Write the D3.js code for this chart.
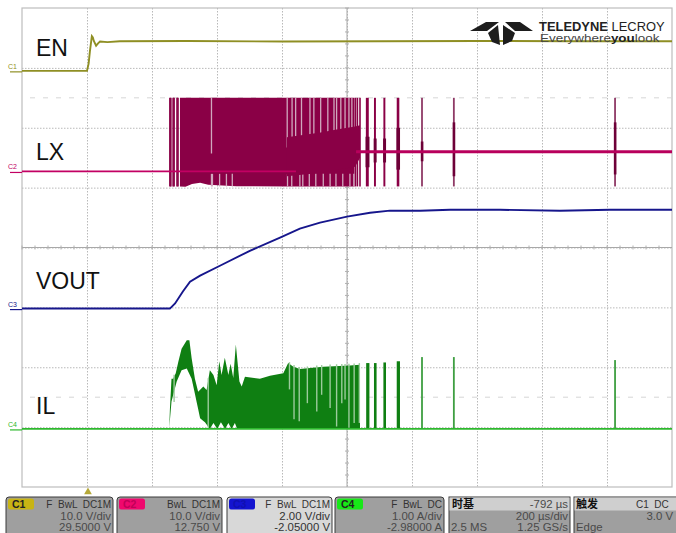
<!DOCTYPE html>
<html><head><meta charset="utf-8">
<script src="https://cdnjs.cloudflare.com/ajax/libs/d3/7.8.5/d3.min.js"></script>
<style>html,body{margin:0;background:#fff}svg{display:block}text{font-family:"Liberation Sans",Arial,sans-serif}</style>
</head><body><svg id="c" width="676" height="533"></svg>
<script>
// time in microseconds from the trigger, 200 us/div
const timeDomain = [-203, 1797];
const enT = [-203,-3,2,6,12,15,18,25,31,37,60,98,300,600,900,1200,1500,1797];
const enV = [0,0,1.2,3.3,5.8,5.6,5,4.2,4.6,4.9,4.8,4.95,5,4.9,4.95,5,4.95,4.95];
const voutT = [-203,252,268,292,314,345,406,498,591,652,714,797,868,929,1022,1114,1268,1452,1606,1797];
const voutV = [0,0,.17,.57,.9,1.1,1.43,1.93,2.37,2.67,2.87,3.07,3.2,3.27,3.27,3.3,3.3,3.27,3.3,3.3];
const lxBaseT = [-203,640,700,760,825,1797];
const lxBaseV = [0,0,.2,1.5,3.3,3.3];
const lxTop = 12.3, lxBottom = -2.5;
// main switching block
const lxLowT = [249,283,300,320,345,370,400,457,612,820];
const lxLowV = [-2.4,-2.5,-2.55,-2.1,-1.9,-2.2,-2.3,-2.45,-2.5,-2.5];
const lxCoreT = [612,650,716,765,822,837];
const lxCoreHi = [5.7,6,6.5,7,7.5,7.7];
const lxCoreLo = [-.8,-.6,-.2,.3,.8,2.3];
const lxSingle = [252,255,262,265,274,277,823,829,837];
const lxHoleHiT = [380,613,628,639,657,683,695,716,738,757,765,778,791,803,812];
const lxHoleLoT = [380,383,405,426,444,614,627,652,661,681,701,724,745,763,784,806,818];
const lxBurstStart = [855,880,909,950,1025,1123,1619];
const lxBurstEnd = [864,886,915,958,1026,1124,1620];
const lxBurstHi = [5.8,5.5,5.5,7.3,5,8.2,8.2];
const lxBurstLo = [.7,1.5,1.5,.3,1.7,-.8,-.5];
const ilBaseT = [-203,1797];
const ilBaseV = [0,0];
const ilHiT = [250,252,257,262,270,278,288,304,312,319,329,339,355,365,375,386,396,404,411,421,432,439,447,455,466,473,483,529,560,601,616,632,652,724,806,837];
const ilHiV = [.01,.32,.84,.84,.93,1.12,1.34,1.48,1.48,1.18,.84,.62,.71,.65,.98,.9,.73,1.13,.9,1.19,.9,1.09,.85,1.41,.79,.71,.87,.84,.89,.93,1.1,1.04,1,1.04,1.06,1.07];
const ilLoT = [250,257,273,288,304,319,334,345,360,375,386,398,409,422,432,442,452,459,837];
const ilLoV = [.01,.46,.79,.98,1.01,.84,.46,.18,.11,0,.1,0,.11,0,.1,0,.1,0,0];
const ilHoleT = [265,370,620,634,650,675,704,719,745,765,781,791,803,819,835];
const ilHoleV = [.45,.02,.66,.16,.13,.43,.29,.57,.35,.04,.43,.49,.02,.1,.1];
const ilBurstStart = [856,880,909,950,1025,1123,1619];
const ilBurstEnd = [866,888,917,960,1026,1124,1620];
const ilBurstHi = [1.1,1.1,1.11,1.13,1.2,1.2,1.15];
const chLabels = ["EN","LX","VOUT","IL"];
const chTags = ["C1","C2","C3","C4"];
const chZeroDiv = [1.05,2.73,5.02,7.03];
const chPerDiv = [10,10,2,1];
const panelNames = ["C1","C2","C3","C4"];
const panelFlags = ["F  BwL  DC1M","BwL  DC1M","F  BwL  DC1M","F  BwL  DC"];
const panelScale = ["10.0 V/div","10.0 V/div","2.00 V/div","1.00 A/div"];
const panelOffset = ["29.5000 V","12.750 V","-2.05000 V","-2.98000 A"];
const chColors = ["#8f8f24","#c20063","#16168c","#2db82d"];
const tagColors = ["#c8b414","#f0086e","#1414d0","#18e818"];

const svg = d3.select("#c");
const plotL=22,plotR=672,plotT=8,plotB=487;
const x = d3.scaleLinear().domain(timeDomain).range([plotL,plotR]);
const divY = d3.scaleLinear().domain([0,8]).range([plotT,plotB]);
const yOf = i => d3.scaleLinear().domain([chPerDiv[i],0]).range([divY(chZeroDiv[i]-1),divY(chZeroDiv[i])]);
const [yEN,yLX,yV,yI] = [0,1,2,3].map(yOf);
const zipT = (t,v)=>t.map((d,i)=>[d,v[i]]);

// grid
const g = svg.append("g");
const gx = d3.scaleLinear().domain([0,10]).range([plotL,plotR]);
const grid = "#b9b9b9";
const ax = g.append("g").attr("transform",`translate(0,${plotT})`).call(d3.axisBottom(gx).tickValues(d3.range(1,10)).tickSize(plotB-plotT).tickFormat(""));
const ay = g.append("g").attr("transform",`translate(${plotL},0)`).call(d3.axisRight(divY).tickValues(d3.range(1,8)).tickSize(plotR-plotL).tickFormat(""));
[ax,ay].forEach(a=>{a.select(".domain").remove();a.selectAll("line").attr("stroke",grid).attr("stroke-width",1).attr("stroke-dasharray","1.5 1.5");});
g.append("rect").attr("x",plotL).attr("y",plotT).attr("width",plotR-plotL).attr("height",plotB-plotT).attr("fill","none").attr("stroke","#bdbdbd").attr("stroke-width",1.2);
g.append("line").attr("x1",gx(5)).attr("x2",gx(5)).attr("y1",plotT).attr("y2",plotB).attr("stroke","#a8a8a8").attr("stroke-width",1);
g.append("line").attr("x1",plotL).attr("x2",plotR).attr("y1",divY(4)).attr("y2",divY(4)).attr("stroke","#a8a8a8").attr("stroke-width",1);
g.selectAll(".tv").data(d3.range(0,10,.2)).join("line").attr("x1",d=>gx(d)).attr("x2",d=>gx(d)).attr("y1",divY(4)-2).attr("y2",divY(4)+2).attr("stroke","#b0b0b0");
g.selectAll(".th").data(d3.range(0,8,.2)).join("line").attr("y1",d=>divY(d)).attr("y2",d=>divY(d)).attr("x1",gx(5)-2).attr("x2",gx(5)+2).attr("stroke","#b0b0b0");
// faint graticule ghost rows
[1.5,6.5].forEach(r=>g.append("line").attr("x1",plotL+8).attr("x2",plotR).attr("y1",divY(r)).attr("y2",divY(r)).attr("stroke","#d6d6d6").attr("stroke-dasharray","5 8"));

const lineFn=(sy)=>d3.line().x(d=>x(d[0])).y(d=>sy(d[1]));
const dark="#8a0046";
const glx = svg.append("g");
// LX block
const lowPts = zipT(lxLowT,lxLowV);
glx.append("path").attr("fill",dark).attr("d",d3.area().x(d=>x(d[0])).y0(yLX(lxTop)).y1(d=>yLX(d[1]))(lowPts.filter(d=>d[0]>=283)));
glx.selectAll(".s").data(lxSingle).join("line").attr("x1",d=>x(d)).attr("x2",d=>x(d)).attr("y1",yLX(lxTop)).attr("y2",yLX(lxBottom)).attr("stroke",dark).attr("stroke-width",1.6);
glx.selectAll(".hh").data(lxHoleHiT).join("line").attr("x1",d=>x(d)).attr("x2",d=>x(d)).attr("y1",yLX(lxTop)).attr("y2",(d,i)=>i==0?yLX(3):yLX(4)).attr("stroke","#d0a8be").attr("stroke-width",1.3);
glx.selectAll(".hl").data(lxHoleLoT).join("line").attr("x1",d=>x(d)).attr("x2",d=>x(d)).attr("y1",yLX(-.4)).attr("y2",yLX(lxBottom)).attr("stroke","#d0a8be").attr("stroke-width",1.3);
glx.append("path").attr("fill",dark).attr("d",d3.area().x(d=>x(d[0])).y0(d=>yLX(d[1])).y1(d=>yLX(d[2]))(lxCoreT.map((t,i)=>[t,lxCoreHi[i],lxCoreLo[i]])));
lxBurstStart.forEach((s,i)=>{
  glx.append("rect").attr("x",x(s)).attr("width",Math.max(1.8,x(lxBurstEnd[i])-x(s))).attr("y",yLX(lxTop)).attr("height",yLX(lxBottom)-yLX(lxTop)).attr("fill",i>=4?"#8f3a66":dark);
  glx.append("rect").attr("x",x(s)-.3).attr("width",Math.max(2.6,x(lxBurstEnd[i])-x(s)+1)).attr("y",yLX(lxBurstHi[i])).attr("height",yLX(lxBurstLo[i])-yLX(lxBurstHi[i])).attr("fill","#6e0038");
});
glx.append("path").attr("fill","none").attr("stroke",chColors[1]).attr("stroke-width",1.8).attr("d",lineFn(yLX)(zipT(lxBaseT,lxBaseV).filter(d=>d[0]<=640)));
glx.append("path").attr("fill","none").attr("stroke","#b8005c").attr("stroke-width",3).attr("d",lineFn(yLX)(zipT(lxBaseT,lxBaseV).filter(d=>d[0]>=825)));

// EN, VOUT
svg.append("path").attr("fill","none").attr("stroke",chColors[0]).attr("stroke-width",1.9).attr("d",lineFn(yEN)(zipT(enT,enV)));
svg.append("path").attr("fill","none").attr("stroke",chColors[2]).attr("stroke-width",1.9).attr("d",lineFn(yV)(zipT(voutT,voutV)));

// IL
const gil = svg.append("g"), igreen="#0f7f12";
const merged = d3.merge([ilHiT,ilLoT]).sort(d3.ascending).filter((d,i,a)=>i==0||d!==a[i-1]);
const hiI=d3.scaleLinear().domain(ilHiT).range(ilHiV), loI=d3.scaleLinear().domain(ilLoT).range(ilLoV);
gil.append("path").attr("fill",igreen).attr("d",d3.area().x(d=>x(d)).y0(d=>yI(hiI(d))).y1(d=>yI(loI(d)))(merged));
gil.selectAll(".h").data(ilHoleT).join("line").attr("x1",d=>x(d)).attr("x2",d=>x(d)).attr("y1",d=>yI(hiI(d)+.03)).attr("y2",(d,i)=>yI(ilHoleV[i])).attr("stroke","#9ccb9c").attr("stroke-width",1.4);
ilBurstStart.forEach((s,i)=>{
  gil.append("rect").attr("x",x(s)).attr("width",Math.max(1.8,x(ilBurstEnd[i])-x(s))).attr("y",yI(ilBurstHi[i])).attr("height",yI(0)-yI(ilBurstHi[i])).attr("fill",i>=4?"#3f9f42":igreen);
});
gil.append("path").attr("fill","none").attr("stroke",chColors[3]).attr("stroke-width",1.8).attr("d",lineFn(yI)(zipT(ilBaseT,ilBaseV)));

// channel tags + labels
const labelY=[56,160,289,414];
chLabels.forEach((l,i)=>{
  svg.append("text").attr("x",36).attr("y",labelY[i]).attr("font-size",23).attr("fill","#111").text(l);
  const y0=divY(chZeroDiv[i]);
  svg.append("line").attr("x1",10).attr("x2",22).attr("y1",y0+1).attr("y2",y0+1).attr("stroke",chColors[i]).attr("stroke-width",1.2);
  svg.append("text").attr("x",8).attr("y",y0-2).attr("font-size",7).attr("fill",chColors[i]).text(chTags[i]);
});
// trigger marker
svg.append("path").attr("d",d3.symbol(d3.symbolTriangle,26)()).attr("transform",`translate(${x(0)},492)`).attr("fill","#b5a838");

// logo
const lg=svg.append("g");
lg.append("path").attr("fill","#1d1d1d").attr("d","M470 31 L486 22 L499 22 L487 31 Z M533 31 L520 22 L505 22 L515 31 Z M488 33 L498 25 L500 45 L492 42 Z M515 33 L503 25 L503 45 L512 41 Z");
const t1=lg.append("text").attr("transform","translate(539,30.5) scale(1.06,1)").attr("font-size",12.2).attr("fill","#222");
t1.append("tspan").attr("font-weight",700).text("TELEDYNE");t1.append("tspan").text(" LECROY");
const tg=lg.append("text").attr("transform","translate(540,41.5) scale(1.28,1)").attr("font-size",10.5).attr("fill","#444");
tg.append("tspan").text("Everywhere");tg.append("tspan").attr("font-weight",700).attr("fill","#222").text("you");tg.append("tspan").text("look");

// panels
const pan=svg.append("g");
const panelBg="#9f9f9f", ink="#4a4a4a";
const px=[6,117,227,335], pw=[107,105,105,109];
panelNames.forEach((n,i)=>{
  const p=pan.append("g").attr("transform",`translate(${px[i]},497)`);
  p.append("rect").attr("width",pw[i]).attr("height",40).attr("rx",3).attr("fill",i==2?"#d8d8d8":panelBg).attr("stroke","#3a3a3a");
  p.append("rect").attr("x",2).attr("y",1.5).attr("width",26).attr("height",11).attr("rx",2.5).attr("fill",tagColors[i]);
  p.append("text").attr("x",6).attr("y",11).attr("font-size",10.5).attr("font-weight",700).attr("fill",i==2?"#1010b0":i==1?"#c00058":"#222").text(n);
  p.append("text").attr("x",pw[i]-2).attr("y",10.5).attr("text-anchor","end").attr("font-size",10).attr("fill","#333").attr("xml:space","preserve").text(panelFlags[i]);
  p.append("text").attr("x",pw[i]-2).attr("y",23).attr("text-anchor","end").attr("font-size",11.4).attr("fill",i==2?"#333":ink).text(panelScale[i]);
  p.append("text").attr("x",pw[i]-2).attr("y",33.5).attr("text-anchor","end").attr("font-size",11.4).attr("fill",i==2?"#333":ink).text(panelOffset[i]);
});
const tb=pan.append("g").attr("transform","translate(449,497)");
tb.append("rect").attr("width",121).attr("height",40).attr("fill",panelBg).attr("stroke","#3a3a3a");
tb.append("rect").attr("x",.5).attr("y",.5).attr("width",120).attr("height",13).attr("fill","#cfcfcf");
tb.append("text").attr("x",3).attr("y",10.5).attr("font-size",11).attr("font-weight",700).attr("fill","#111").attr("style","font-family:'Noto Sans CJK SC'").text("时基");
tb.append("text").attr("x",119).attr("y",10.5).attr("text-anchor","end").attr("font-size",11.4).attr("fill",ink).text("-792 µs");
tb.append("text").attr("x",119).attr("y",23).attr("text-anchor","end").attr("font-size",11.4).attr("fill",ink).text("200 µs/div");
tb.append("text").attr("x",2).attr("y",33.5).attr("font-size",11.4).attr("fill",ink).text("2.5 MS");
tb.append("text").attr("x",119).attr("y",33.5).attr("text-anchor","end").attr("font-size",11.4).attr("fill",ink).text("1.25 GS/s");
const tr=pan.append("g").attr("transform","translate(574,497)");
tr.append("rect").attr("width",104).attr("height",40).attr("fill",panelBg).attr("stroke","#3a3a3a");
tr.append("rect").attr("x",.5).attr("y",.5).attr("width",103).attr("height",13).attr("fill","#cfcfcf");
tr.append("text").attr("x",2).attr("y",10.5).attr("font-size",11).attr("font-weight",700).attr("fill","#111").attr("style","font-family:'Noto Sans CJK SC'").text("触发");
tr.append("text").attr("x",62).attr("y",10.5).attr("font-size",10).attr("fill","#333").attr("xml:space","preserve").text("C1  DC");
tr.append("text").attr("x",99).attr("y",23).attr("text-anchor","end").attr("font-size",11.4).attr("fill",ink).text("3.0 V");
tr.append("text").attr("x",2).attr("y",33.5).attr("font-size",11.4).attr("fill",ink).text("Edge");
</script></body></html>
